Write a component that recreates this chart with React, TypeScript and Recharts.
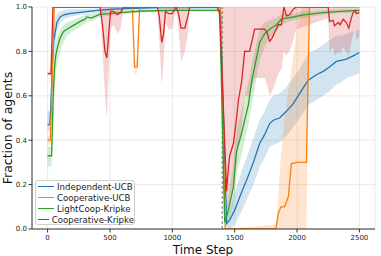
import {
  ComposedChart,
  Line,
  Area,
  XAxis,
  YAxis,
  CartesianGrid,
  ReferenceLine,
} from "recharts";

// time steps and values per series
const blueT = [0, 18, 28, 40, 50, 62, 75, 100, 130, 175, 260, 400, 530, 700, 900, 1385, 1435, 1460, 1500, 1555, 1595, 1650, 1700, 1740, 1780, 1810, 1860, 1915, 1970, 2020, 2060, 2090, 2155, 2210, 2260, 2315, 2355, 2395, 2450, 2500];
const blueMean = [0.47, 0.47, 0.58, 0.76, 0.85, 0.89, 0.93, 0.955, 0.965, 0.97, 0.976, 0.985, 0.99, 0.994, 0.997, 0.998, 0.025, 0.04, 0.085, 0.165, 0.22, 0.3, 0.385, 0.425, 0.475, 0.49, 0.5, 0.53, 0.565, 0.61, 0.645, 0.67, 0.695, 0.71, 0.73, 0.755, 0.76, 0.765, 0.78, 0.795];
const blueLo = [0.44, 0.44, 0.5, 0.64, 0.76, 0.84, 0.89, 0.93, 0.945, 0.955, 0.965, 0.978, 0.985, 0.99, 0.993, 0.995, 0, 0, 0.02, 0.08, 0.13, 0.2, 0.28, 0.32, 0.37, 0.38, 0.39, 0.42, 0.46, 0.5, 0.53, 0.56, 0.58, 0.6, 0.62, 0.65, 0.66, 0.68, 0.69, 0.7];
const blueHi = [0.53, 0.53, 0.66, 0.86, 0.93, 0.95, 0.97, 0.98, 0.985, 0.99, 0.99, 0.993, 0.996, 0.998, 1, 1, 0.06, 0.09, 0.16, 0.26, 0.32, 0.41, 0.49, 0.53, 0.58, 0.6, 0.61, 0.64, 0.68, 0.72, 0.76, 0.79, 0.81, 0.83, 0.85, 0.87, 0.87, 0.88, 0.89, 0.9];

const orangeT = [0, 22, 54, 680, 697, 718, 738, 1385, 1425, 1830, 1850, 1870, 1900, 1930, 1955, 2000, 2040, 2075, 2100, 2500];
const orangeMean = [0.4, 0.4, 1, 1, 0.73, 0.73, 1, 1, 0, 0, 0.07, 0.1, 0.1, 0.145, 0.295, 0.3, 0.3, 0.3, 1, 1];
const orangeLo = [0.38, 0.38, 1, 1, 0.7, 0.7, 1, 1, 0, 0, 0, 0, 0, 0, 0, 0, 0, 0, 1, 1];
const orangeHi = [0.42, 0.42, 1, 1, 0.76, 0.76, 1, 1, 0, 0.02, 0.15, 0.33, 0.5, 0.62, 0.72, 0.9, 1, 1, 1, 1];

const greenT = [0, 32, 45, 55, 65, 80, 100, 128, 155, 200, 262, 300, 315, 350, 420, 500, 580, 755, 1000, 1380, 1420, 1450, 1490, 1515, 1555, 1580, 1610, 1635, 1660, 1700, 1740, 1780, 1835, 1875, 1915, 1970, 2050, 2210, 2345, 2500];
const greenMean = [0.33, 0.33, 0.6, 0.72, 0.78, 0.82, 0.86, 0.89, 0.9, 0.915, 0.935, 0.945, 0.955, 0.95, 0.968, 0.97, 0.975, 0.982, 0.985, 0.985, 0.03, 0.085, 0.19, 0.35, 0.43, 0.49, 0.56, 0.66, 0.73, 0.84, 0.88, 0.9, 0.92, 0.945, 0.95, 0.955, 0.965, 0.975, 0.98, 0.985];
const greenLo = [0.28, 0.28, 0.45, 0.6, 0.7, 0.75, 0.8, 0.84, 0.87, 0.89, 0.91, 0.925, 0.935, 0.935, 0.955, 0.96, 0.965, 0.975, 0.98, 0.98, 0, 0.03, 0.1, 0.25, 0.33, 0.4, 0.47, 0.56, 0.63, 0.76, 0.82, 0.86, 0.89, 0.92, 0.93, 0.94, 0.95, 0.965, 0.972, 0.975];
const greenHi = [0.37, 0.37, 0.72, 0.8, 0.84, 0.87, 0.9, 0.92, 0.93, 0.94, 0.955, 0.965, 0.97, 0.97, 0.98, 0.98, 0.985, 0.99, 0.99, 0.99, 0.07, 0.15, 0.3, 0.45, 0.53, 0.6, 0.66, 0.74, 0.8, 0.9, 0.93, 0.94, 0.95, 0.97, 0.97, 0.97, 0.98, 0.985, 0.99, 0.99];

const redT = [0, 27, 43, 420, 440, 460, 475, 490, 505, 530, 560, 585, 610, 880, 895, 915, 930, 945, 970, 1000, 1030, 1050, 1070, 1100, 1125, 1140, 1360, 1380, 1435, 1450, 1460, 1490, 1515, 1530, 1555, 1580, 1620, 1660, 1740, 1760, 1780, 1800, 1820, 1850, 1875, 1895, 1915, 1940, 1970, 1995, 2250, 2260, 2290, 2300, 2330, 2345, 2370, 2395, 2415, 2435, 2450, 2465, 2475, 2500];
const redMean = [0.7, 0.7, 1, 1, 0.92, 0.8, 0.77, 0.88, 0.98, 0.98, 0.965, 0.975, 1, 1, 0.96, 0.84, 0.88, 0.98, 0.97, 0.97, 1, 0.97, 0.905, 0.905, 0.96, 1, 1, 0.97, 0.17, 0.28, 0.33, 0.385, 0.5, 0.58, 0.66, 0.8, 0.8, 0.9, 0.9, 0.885, 0.845, 0.86, 0.885, 0.92, 0.92, 1, 0.96, 0.965, 0.99, 1, 1, 0.935, 0.94, 0.915, 0.93, 0.92, 0.945, 0.93, 0.905, 0.95, 0.975, 0.985, 0.97, 0.975];
const redLo = [0.69, 0.69, 1, 1, 0.8, 0.6, 0.5, 0.7, 0.9, 0.92, 0.88, 0.9, 1, 1, 0.85, 0.65, 0.75, 0.93, 0.9, 0.9, 1, 0.9, 0.75, 0.8, 0.88, 1, 1, 0.9, 0.05, 0.1, 0.12, 0.2, 0.3, 0.38, 0.45, 0.6, 0.6, 0.68, 0.68, 0.65, 0.6, 0.62, 0.65, 0.7, 0.72, 0.8, 0.78, 0.8, 0.85, 0.9, 0.95, 0.8, 0.82, 0.78, 0.8, 0.79, 0.82, 0.8, 0.78, 0.84, 0.88, 0.9, 0.85, 0.87];
const redHi = [0.71, 0.71, 1, 1, 1, 1, 1, 1, 1, 1, 1, 1, 1, 1, 1, 1, 1, 1, 1, 1, 1, 1, 1, 1, 1, 1, 1, 1, 1, 1, 1, 1, 1, 1, 1, 1, 1, 1, 1, 1, 1, 1, 1, 1, 1, 1, 1, 1, 1, 1, 1, 1, 1, 1, 1, 1, 1, 1, 1, 1, 1, 1, 1, 1];

const X_TICKS = [0, 500, 1000, 1500, 2000, 2500];
const Y_TICKS = [0, 0.2, 0.4, 0.6, 0.8, 1.0];
const CHANGE_STEP = 1400;

const rows = (t: number[], m: number[], lo: number[], hi: number[]) =>
  t.map((x, i) => ({ t: x, v: m[i], band: [lo[i], hi[i]] }));

const SERIES = [
  { name: "Independent-UCB", color: "#1f77b4", data: rows(blueT, blueMean, blueLo, blueHi) },
  { name: "Cooperative-UCB", color: "#ff7f0e", data: rows(orangeT, orangeMean, orangeLo, orangeHi) },
  { name: "LightCoop-Kripke", color: "#2ca02c", data: rows(greenT, greenMean, greenLo, greenHi) },
  { name: "Cooperative-Kripke", color: "#d62728", data: rows(redT, redMean, redLo, redHi) },
];

const FONT = "DejaVu Sans, sans-serif";

export default function App() {
  return (
    <div style={{ position: "absolute", left: 0, top: 0, width: 381, height: 256, background: "#fff", fontFamily: FONT }}>
      <ComposedChart width={381} height={256} margin={{ top: 7, right: 6, bottom: 0, left: 0 }}>
        <CartesianGrid stroke="#e4e4e4" strokeWidth={0.8} />
        <XAxis
          dataKey="t"
          type="number"
          domain={[-125, 2625]}
          ticks={X_TICKS}
          height={27}
          tickSize={3.5}
          tickMargin={2.5}
          stroke="#333"
          tick={{ fontSize: 7, fill: "#222", fontFamily: FONT }}
          allowDataOverflow
          label={{
            content: () => (
              <text x={203} y={254} textAnchor="middle" fontSize={12} fill="#111" fontFamily={FONT}>
                Time Step
              </text>
            ),
          }}
        />
        <XAxis xAxisId="top" orientation="top" type="number" domain={[-125, 2625]} height={0} tick={false} tickLine={false} axisLine={{ stroke: "#aaa" }} />
        <YAxis
          type="number"
          domain={[0, 1]}
          ticks={Y_TICKS}
          width={32}
          tickSize={3.5}
          tickMargin={1.5}
          stroke="#333"
          tickFormatter={(v: number) => v.toFixed(1)}
          tick={{ fontSize: 7, fill: "#222", fontFamily: FONT }}
          allowDataOverflow
          label={{
            content: () => (
              <text x={11.5} y={128} transform="rotate(-90 11.5 128)" textAnchor="middle" fontSize={12.5} fill="#111" fontFamily={FONT}>
                Fraction of agents
              </text>
            ),
          }}
        />
        <YAxis yAxisId="right" orientation="right" type="number" domain={[0, 1]} width={0} tick={false} tickLine={false} axisLine={{ stroke: "#999", strokeWidth: 1.5 }} />
        <ReferenceLine x={CHANGE_STEP} stroke="#777" strokeDasharray="3 2" strokeWidth={1} />
        {SERIES.flatMap((s) => [
          <Area
            key={s.name + "-band"}
            data={s.data}
            dataKey="band"
            type="linear"
            stroke="none"
            fill={s.color}
            fillOpacity={0.2}
            isAnimationActive={false}
            activeDot={false}
          />,
          <Line
            key={s.name}
            data={s.data}
            dataKey="v"
            name={s.name}
            type="linear"
            stroke={s.color}
            strokeWidth={1.3}
            dot={false}
            activeDot={false}
            isAnimationActive={false}
          />,
        ])}
      </ComposedChart>

      {/* legend, lower left */}
      <div
        style={{
          position: "absolute",
          left: 35,
          top: 180,
          width: 100,
          height: 45,
          boxSizing: "border-box",
          border: "1px solid #d0d0d0",
          borderRadius: 3,
          background: "rgba(255,255,255,0.85)",
          paddingTop: 0,
        }}
      >
        {SERIES.map((s) => (
          <div key={s.name} style={{ display: "flex", alignItems: "center", height: 11, fontSize: 8.6, color: "#222", whiteSpace: "nowrap" }}>
            <span style={{ display: "inline-block", width: 16, height: 1.6, background: s.color, marginLeft: 2, marginRight: 3 }} />
            <span>{s.name}</span>
          </div>
        ))}
      </div>
    </div>
  );
}
